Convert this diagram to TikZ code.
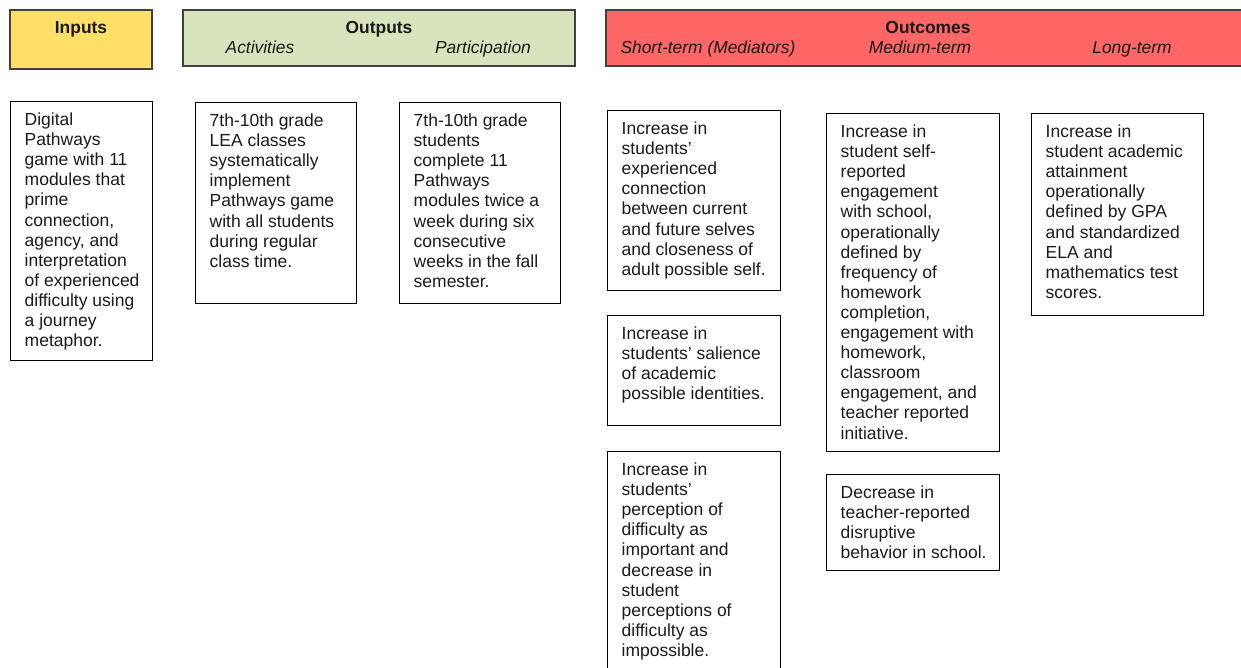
\documentclass[tikz,border=0pt]{standalone}
\usepackage{fontspec}
\setmainfont{Liberation Sans}
\definecolor{inyellow}{HTML}{FFDF65}
\definecolor{outgreen}{HTML}{D7E4BD}
\definecolor{outred}{HTML}{FF6666}
\definecolor{txt}{HTML}{1A1A1A}
\newlength\bxw
\newcommand\bodytext[3]{\setlength\bxw{#2pt}\addtolength\bxw{-15pt}\hspace*{13.5pt}\parbox[c][#1pt][t]{\bxw}{\raggedright\vspace*{10pt}\strut #3}}
\begin{document}
\begin{tikzpicture}[x=1pt,y=-1pt,
  hdr/.style={draw=black!75, line width=1.1pt},
  hdrmain/.style={font=\fontsize{17.4}{20}\selectfont\bfseries, text=txt, anchor=base},
  hdrsub/.style={font=\fontsize{17.4}{20}\selectfont\itshape, text=txt, anchor=base},
  box/.style={draw=black, line width=0.9pt, inner sep=0pt, anchor=north west,
    font=\fontsize{17.5}{20.1}\selectfont, text=txt}]
\useasboundingbox (0,0) rectangle (1241,667);
% headers
\path[hdr, fill=inyellow] (10,10) rectangle (152,69);
\node[hdrmain] (inh) at (81,33) {Inputs};
\path[hdr, fill=outgreen] (183,10) rectangle (575,66);
\node[hdrmain] (outh) at (379,33) {Outputs};
\node[hdrsub] (acth) at (260,53) {Activities};
\node[hdrsub] (parth) at (483,53) {Participation};
\path[hdr, fill=outred] (606,10) rectangle (1250,66);
\node[hdrmain] (ocmh) at (928,33) {Outcomes};
\node[hdrsub] (sth) at (708,53) {Short-term (Mediators)};
\node[hdrsub] (mth) at (920,53) {Medium-term};
\node[hdrsub] (lth) at (1132,53) {Long-term};
% boxes
\node[box, minimum width=142pt] (inp) at (10,101) {\bodytext{259}{142}{Digital\\ Pathways\\ game with 11\\ modules that\\ prime\\ connection,\\ agency, and\\ interpretation\\ of experienced\\ difficulty using\\ a journey\\ metaphor.}};
\node[box, minimum width=161pt] (act) at (195,102) {\bodytext{201}{161}{7th-10th grade\\ LEA classes\\ systematically\\ implement\\ Pathways game\\ with all students\\ during regular\\ class time.}};
\node[box, minimum width=161pt] (par) at (399,102) {\bodytext{201}{161}{7th-10th grade\\ students\\ complete 11\\ Pathways\\ modules twice a\\ week during six\\ consecutive\\ weeks in the fall\\ semester.}};
\node[box, minimum width=173pt] (st1) at (607,110) {\bodytext{180}{173}{Increase in\\ students’\\ experienced\\ connection\\ between current\\ and future selves\\ and closeness of\\ adult possible self.}};
\node[box, minimum width=173pt] (st2) at (607,315) {\bodytext{110}{173}{Increase in\\ students’ salience\\ of academic\\ possible identities.}};
\node[box, minimum width=173pt] (st3) at (607,451) {\bodytext{240}{173}{Increase in\\ students’\\ perception of\\ difficulty as\\ important and\\ decrease in\\ student\\ perceptions of\\ difficulty as\\ impossible.}};
\node[box, minimum width=173pt] (md1) at (826,113) {\bodytext{338}{173}{Increase in\\ student self-\\ reported\\ engagement\\ with school,\\ operationally\\ defined by\\ frequency of\\ homework\\ completion,\\ engagement with\\ homework,\\ classroom\\ engagement, and\\ teacher reported\\ initiative.}};
\node[box, minimum width=173pt] (md2) at (826,474) {\bodytext{96}{173}{Decrease in\\ teacher-reported\\ disruptive\\ behavior in school.}};
\node[box, minimum width=172pt] (lng) at (1031,113) {\bodytext{202}{172}{Increase in\\ student academic\\ attainment\\ operationally\\ defined by GPA\\ and standardized\\ ELA and\\ mathematics test\\ scores.}};
\end{tikzpicture}
\end{document}
